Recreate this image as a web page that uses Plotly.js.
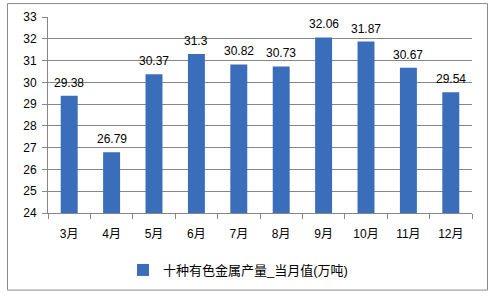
<!DOCTYPE html>
<html><head><meta charset="utf-8">
<script src="https://cdn.plot.ly/plotly-3.0.1.min.js"></script>
<style>html,body{margin:0;padding:0;background:#fff}#c{width:493px;height:296px}</style>
</head><body><div id="c"></div>
<script>
const months = ["3月","4月","5月","6月","7月","8月","9月","10月","11月","12月"];
const values = [29.38,26.79,30.37,31.3,30.82,30.73,32.06,31.87,30.67,29.54];
const labels = ["29.38","26.79","30.37","31.3","30.82","30.73","32.06","31.87","30.67","29.54"];
const seriesName = "十种有色金属产量_当月值(万吨)";

const font = "Liberation Sans, Arial, Noto Sans CJK SC, sans-serif";
const L=48, R=472, T=17, B=214, W=493, H=296;
const pw=R-L, ph=B-T;
const px = v => (v-L)/pw, py = v => (B-v)/ph;

const annotations = months.map((m,i)=>({
  x:m, y:values[i], xref:'x', yref:'y', text:labels[i], showarrow:false,
  yanchor:'bottom', yshift:4, font:{family:font,size:12,color:'#000'}
}));

Plotly.newPlot('c', [{
  type:'bar', x:months, y:values, name:seriesName,
  marker:{color:'#3a6dba', line:{width:0}},
  hoverinfo:'none'
}], {
  width:W, height:H,
  margin:{l:L,r:W-R,t:T,b:H-B,pad:0},
  paper_bgcolor:'#fff', plot_bgcolor:'#fff',
  bargap:0.6,
  font:{family:font,size:12,color:'#000'},
  showlegend:true,
  legend:{orientation:'h', x:px(238), xanchor:'center', y:py(270), yanchor:'middle',
    font:{family:font,size:13,color:'#000'}, itemwidth:30},
  annotations:annotations,
  xaxis:{type:'category', showline:true, linecolor:'#868686', linewidth:1,
    ticks:'outside', tickson:'boundaries', ticklen:5, tickcolor:'#868686', ticklabelstandoff:10,
    tickfont:{family:font,size:12,color:'#000'}, showgrid:false, zeroline:false, fixedrange:true},
  yaxis:{range:[24,33], dtick:1, showline:true, linecolor:'#868686', linewidth:1,
    ticks:'outside', ticklen:5, tickcolor:'#868686', showgrid:true, gridcolor:'#868686', gridwidth:1,
    ticklabelstandoff:3,
    tickfont:{family:font,size:12,color:'#000'}, zeroline:false, fixedrange:true},
  shapes:[{type:'rect', xref:'paper', yref:'paper', x0:px(7.5), x1:px(487.5), y0:py(291.5), y1:py(3.5),
    line:{color:'#8c8c8c', width:1}, fillcolor:'rgba(0,0,0,0)', layer:'below'}]
}, {staticPlot:true, displayModeBar:false});
</script></body></html>
